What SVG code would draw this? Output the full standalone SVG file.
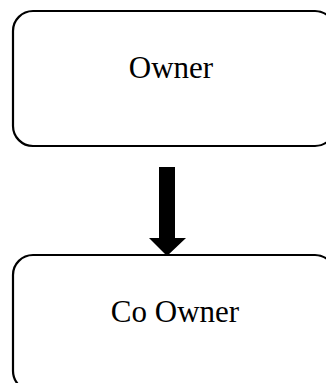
<svg xmlns="http://www.w3.org/2000/svg" width="326" height="383" viewBox="0 0 326 383">
  <style>
    .box { fill: #ffffff; stroke: #000000; stroke-width: 2.2; }
    .label { font-family: "Liberation Serif", "Times New Roman", serif; font-size: 31px; fill: #000000; text-anchor: middle; }
    .arrow { fill: #000000; stroke: none; }
  </style>
  <rect width="326" height="383" fill="#ffffff"/>
  <g id="owner">
    <rect class="box" x="13" y="11" width="322" height="135" rx="20" ry="20"/>
    <text class="label" x="171" y="78">Owner</text>
  </g>
  <g id="co-owner">
    <rect class="box" x="13" y="255" width="322" height="136" rx="20" ry="20"/>
    <text class="label" x="175" y="322">Co Owner</text>
  </g>
  <g id="connectors">
    <!-- block arrow from Owner down to Co Owner -->
    <polygon class="arrow" points="159,167 175,167 175,238 186,238 167,256 149,238 159,238"/>
  </g>
</svg>
